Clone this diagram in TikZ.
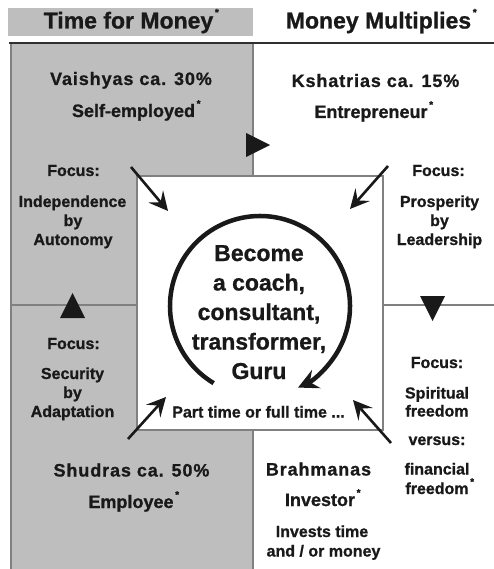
\documentclass[tikz,border=0pt]{standalone}
\usepackage{fontspec}
\setmainfont{Liberation Sans}[BoldFeatures={FakeBold=0.9}]
\usetikzlibrary{arrows.meta}
\definecolor{panel}{RGB}{190,190,190}
\definecolor{edge}{RGB}{128,128,128}
\definecolor{ink}{RGB}{25,25,25}
\newcommand{\supast}{\rlap{\raisebox{1.05ex}{\fontsize{10}{10}\selectfont\,*}}}
\begin{document}
\begin{tikzpicture}[x=1pt,y=-1pt,
  small/.style={font=\bfseries\fontsize{16}{19}\selectfont, inner sep=0pt, anchor=base, text=ink},
  mid/.style={font=\bfseries\fontsize{18}{19}\selectfont, inner sep=0pt, anchor=base, text=ink},
  spaced/.style={font=\bfseries\fontsize{18}{19}\selectfont\addfontfeatures{LetterSpace=5}, inner sep=0pt, anchor=base, text=ink},
  head/.style={font=\bfseries\fontsize{23}{26}\selectfont\addfontfeatures{FakeBold=1.6}, inner sep=0pt, anchor=base, text=ink},
  core/.style={font=\bfseries\fontsize{23}{26}\selectfont, inner sep=0pt, anchor=base, text=ink},
  pointer/.style={line width=2.6pt, draw=ink, -{Stealth[length=19pt,width=19pt,inset=7.5pt]}},
  tri/.style={fill=ink},
  divider/.style={draw=edge, line width=1.2pt}]
\fill[white] (0,0) rectangle (494,569);
\useasboundingbox (0,0) rectangle (494,569);
% panels
\fill[panel] (8,8) rectangle (253,36);
\fill[panel] (11,43) rectangle (253,569);
\draw[edge, line width=1.6pt] (11,43) -- (11,569);
\draw[divider] (253,43) -- (253,569);
\draw[divider] (11,305) -- (137,305);
\draw[divider] (383,305) -- (494,305);
\draw[ink!90, line width=2.6pt] (9,43) -- (494,43);
\filldraw[fill=white, divider] (137,176) rectangle (383,430);
% triangles
\fill[tri] (246,133) -- (270,145) -- (246,157) -- cycle;
\fill[tri] (60,318) -- (72.5,293) -- (85,318) -- cycle;
\fill[tri] (420,296) -- (445,296) -- (432.5,321) -- cycle;
% headers
\node[head] (h1) at (128.5,28.5) {Time for Money\supast};
\node[head] (h2) at (378.5,28.5) {Money Multiplies\supast};
% top left
\node[spaced] (v1) at (131,85) {Vaishyas ca. 30\%};
\node[mid] (v2) at (133.5,117) {Self-employed\supast};
\node[small] (fl1) at (73.5,176) {Focus:};
\node[small] (fl2) at (72.5,207) {Independence};
\node[small] (fl3) at (73,226) {by};
\node[small] (fl4) at (73,245) {Autonomy};
% top right
\node[spaced] (k1) at (375.5,87) {Kshatrias ca. 15\%};
\node[mid] (k2) at (371,118) {Entrepreneur\supast};
\node[small] (fr1) at (438.5,176) {Focus:};
\node[small] (fr2) at (439.5,207) {Prosperity};
\node[small] (fr3) at (439.5,226) {by};
\node[small] (fr4) at (439.5,245) {Leadership};
% centre
\node[core] (c1) at (259,261) {Become};
\node[core] (c2) at (259,290.5) {a coach,};
\node[core] (c3) at (259,320) {consultant,};
\node[core] (c4) at (259,349.5) {transformer,};
\node[core] (c5) at (259,379) {Guru};
\node[small] (pt) at (258.5,417.5) {Part time or full time ...};
% bottom left
\node[small] (bl1) at (73.5,349) {Focus:};
\node[small] (bl2) at (72.5,379) {Security};
\node[small] (bl3) at (72.5,398) {by};
\node[small] (bl4) at (72.5,417) {Adaptation};
\node[spaced] (s1) at (131.5,476.5) {Shudras ca. 50\%};
\node[mid] (s2) at (131,508) {Employee\supast};
% bottom right
\node[spaced] (b1) at (318.5,475.5) {Brahmanas};
\node[mid] (b2) at (320,506) {Investor\supast};
\node[small] (b3) at (322,537) {Invests time};
\node[small] (b4) at (323.5,556.5) {and / or money};
\node[small] (br1) at (437,368) {Focus:};
\node[small] (br2) at (437,398.5) {Spiritual};
\node[small] (br3) at (437,416.5) {freedom};
\node[small] (br4) at (437,445) {versus:};
\node[small] (br5) at (437,474.5) {financial};
\node[small] (br6) at (437,494) {freedom\supast};
% arrows
\coordinate (tl0) at (131,167); \coordinate (tl1) at (168,211);
\coordinate (tr0) at (388,166); \coordinate (tr1) at (350,209);
\coordinate (bl0) at (128,439); \coordinate (bl1a) at (166,397);
\coordinate (br0) at (391,443); \coordinate (br1a) at (353,400);
\draw[pointer] (tl0) -- (tl1);
\draw[pointer] (tr0) -- (tr1);
\draw[pointer] (bl0) -- (bl1a);
\draw[pointer] (br0) -- (br1a);
% circular arrow
\coordinate (cc) at (260,306);
\draw[line width=4.5pt, draw=ink, -{Stealth[length=20pt,width=20pt,inset=7pt]}]
  ([shift={(121:90)}]cc) arc[start angle=121, end angle=425, radius=90];
\end{tikzpicture}
\end{document}
